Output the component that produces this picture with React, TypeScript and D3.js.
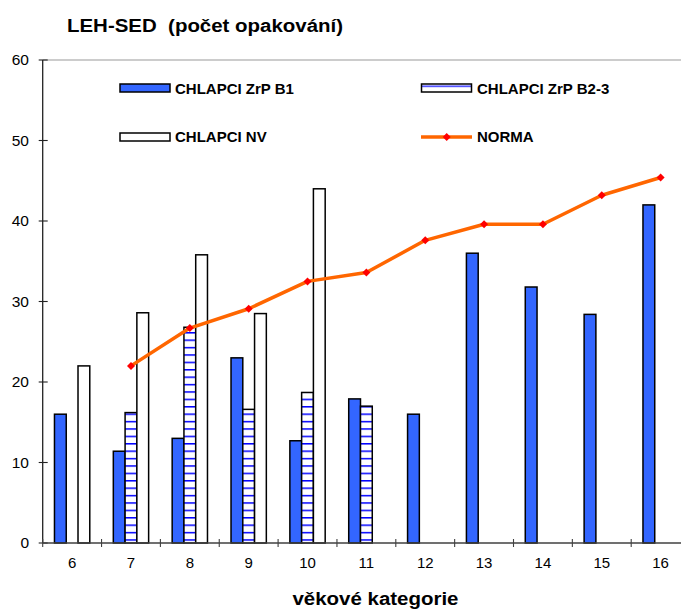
import React from "react";
import * as d3 from "d3";

const categories = ["6", "7", "8", "9", "10", "11", "12", "13", "14", "15", "16"];
const seriesNames = ["CHLAPCI ZrP B1", "CHLAPCI ZrP B2-3", "CHLAPCI NV"];
const zrpB1 = [16.0, 11.4, 13.0, 23.0, 12.7, 17.9, 16.0, 36.0, 31.8, 28.4, 42.0];
const zrpB23 = [null, 16.2, 26.8, 16.6, 18.7, 17.0, null, null, null, null, null];
const nv = [22.0, 28.6, 35.8, 28.5, 44.0, null, null, null, null, null, null];
const norma = [null, 22.0, 26.7, 29.1, 32.5, 33.6, 37.6, 39.6, 39.6, 43.2, 45.4];
const yTicks = [0, 10, 20, 30, 40, 50, 60];

const W = 681;
const H = 609;
const FONT = "'Liberation Sans', Arial, Helvetica, sans-serif";
const BLUE = "#3366FF";
const ORANGE = "#FF6600";

export default function App() {
  const x0 = 42.7;
  const step = 58.85;
  const yBottom = 543;
  const yTop = 60;

  const x = d3
    .scaleBand<string>()
    .domain(categories)
    .range([x0, x0 + step * categories.length])
    .padding(0);
  const xs = d3
    .scaleBand<string>()
    .domain(seriesNames)
    .range([0, x.bandwidth()])
    .paddingInner(0)
    .paddingOuter(1);
  const y = d3.scaleLinear().domain([0, 60]).range([yBottom, yTop]);

  const seriesData: (number | null)[][] = [zrpB1, zrpB23, nv];
  const fills = [BLUE, "url(#hstripes)", "#FFFFFF"];

  const line = d3
    .line<number | null>()
    .defined((d) => d != null)
    .x((_, i) => (x(categories[i]) as number) + x.bandwidth() / 2)
    .y((d) => y(d as number));

  const diamond = (cx: number, cy: number, r: number) =>
    `M${cx},${cy - r}L${cx + r},${cy}L${cx},${cy + r}L${cx - r},${cy}Z`;

  const boundaries = d3.range(categories.length + 1).map((i) => x0 + i * step);

  return (
    <svg
      width={W}
      height={H}
      style={{ position: "absolute", left: 0, top: 0, background: "#fff" }}
      fontFamily={FONT}
    >
      <defs>
        <pattern
          id="hstripes"
          patternUnits="userSpaceOnUse"
          x={0}
          y={539.25}
          width={8}
          height={7.4}
        >
          <rect x={0} y={0} width={8} height={7.4} fill="#FFFFFF" />
          <rect x={0} y={0} width={8} height={1.5} fill="#0000FF" />
        </pattern>
        <pattern
          id="hstripesLegend"
          patternUnits="userSpaceOnUse"
          x={0}
          y={85.6}
          width={8}
          height={7.4}
        >
          <rect x={0} y={0} width={8} height={7.4} fill="#FFFFFF" />
          <rect x={0} y={0} width={8} height={1.2} fill="#0000FF" />
        </pattern>
      </defs>

      {/* title */}
      <text
        x={67}
        y={32}
        fontSize={18}
        fontWeight="bold"
        textLength={276}
        lengthAdjust="spacingAndGlyphs"
        style={{ whiteSpace: "pre" }}
        fill="#000"
      >
        {"LEH-SED  (počet opakování)"}
      </text>

      {/* plot frame top */}
      <line x1={x0} x2={W} y1={yTop} y2={yTop} stroke="#9a9a9a" strokeWidth={1.2} />

      {/* bars */}
      {seriesData.map((vals, si) =>
        vals.map((v, ci) =>
          v == null ? null : (
            <rect
              key={`b${si}-${ci}`}
              x={(x(categories[ci]) as number) + (xs(seriesNames[si]) as number)}
              y={y(v)}
              width={xs.bandwidth()}
              height={yBottom - y(v)}
              fill={fills[si]}
              stroke="#000"
              strokeWidth={1.5}
            />
          )
        )
      )}

      {/* norma line */}
      <path d={line(norma) || ""} fill="none" stroke={ORANGE} strokeWidth={3.5} strokeLinejoin="round" />
      {norma.map((v, i) =>
        v == null ? null : (
          <path
            key={`m${i}`}
            d={diamond((x(categories[i]) as number) + x.bandwidth() / 2, y(v), 4)}
            fill="#FF0000"
          />
        )
      )}

      {/* y axis */}
      <line x1={x0} x2={x0} y1={yTop} y2={yBottom} stroke="#222" strokeWidth={1.3} />
      {yTicks.map((t) => (
        <g key={`yt${t}`}>
          <line x1={x0 - 4} x2={x0 + 5} y1={y(t)} y2={y(t)} stroke="#222" strokeWidth={1.1} />
          <text x={29} y={y(t)} dy="0.35em" textAnchor="end" fontSize={15.5} fill="#000">
            {t}
          </text>
        </g>
      ))}

      {/* x axis */}
      <line x1={x0} x2={W} y1={yBottom} y2={yBottom} stroke="#404040" strokeWidth={1.3} />
      {boundaries.map((bx, i) => (
        <line key={`xt${i}`} x1={bx} x2={bx} y1={yBottom - 4} y2={yBottom + 4} stroke="#404040" strokeWidth={1.1} />
      ))}
      {categories.map((c) => (
        <text
          key={`xl${c}`}
          x={(x(c) as number) + x.bandwidth() / 2}
          y={567.5}
          textAnchor="middle"
          fontSize={15}
          fill="#000"
        >
          {c}
        </text>
      ))}

      {/* x axis title */}
      <text
        x={375.5}
        y={604.5}
        textAnchor="middle"
        fontSize={18}
        fontWeight="bold"
        textLength={166}
        lengthAdjust="spacingAndGlyphs"
        fill="#000"
      >
        věkové kategorie
      </text>

      {/* legend */}
      <g>
        <rect x={120} y={84} width={50} height={8} fill={BLUE} stroke="#000" strokeWidth={1.5} />
        <text x={175} y={93.5} fontSize={15} fontWeight="bold" fill="#000">
          {seriesNames[0]}
        </text>

        <rect x={421.5} y={84} width={50} height={8} fill="url(#hstripesLegend)" stroke="#000" strokeWidth={1.5} />
        <text x={477} y={93.5} fontSize={15} fontWeight="bold" fill="#000">
          {seriesNames[1]}
        </text>

        <rect x={120} y={133} width={50} height={8} fill="#FFFFFF" stroke="#000" strokeWidth={1.5} />
        <text x={175} y={142} fontSize={15} fontWeight="bold" fill="#000">
          {seriesNames[2]}
        </text>

        <line x1={421} x2={472} y1={137} y2={137} stroke={ORANGE} strokeWidth={3.5} />
        <path d={diamond(446.7, 137, 4)} fill="#FF0000" />
        <text x={477} y={142} fontSize={15} fontWeight="bold" fill="#000">
          NORMA
        </text>
      </g>
    </svg>
  );
}
